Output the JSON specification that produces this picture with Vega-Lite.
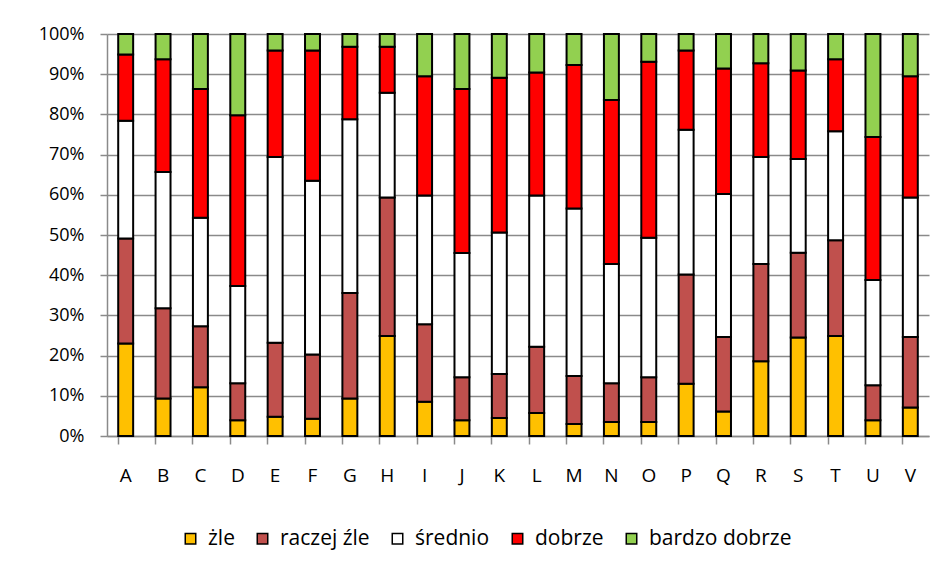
{
  "$schema": "https://vega.github.io/schema/vega-lite/v6.json",
  "width": 822,
  "height": 402,
  "autosize": {"type": "none"},
  "padding": {"left": 107, "top": 34, "right": 15, "bottom": 135},
  "background": "white",
  "config": {
    "font": "Open Sans",
    "view": {"stroke": null},
    "axis": {"labelColor": "#000000", "labelFont": "Open Sans"}
  },
  "data": {
    "values": [
      {"k": "A", "żle": 23.0, "raczej źle": 26.1, "średnio": 29.3, "dobrze": 16.5, "bardzo dobrze": 5.1},
      {"k": "B", "żle": 9.3, "raczej źle": 22.5, "średnio": 33.9, "dobrze": 28.0, "bardzo dobrze": 6.3},
      {"k": "C", "żle": 12.1, "raczej źle": 15.2, "średnio": 27.0, "dobrze": 32.0, "bardzo dobrze": 13.7},
      {"k": "D", "żle": 3.9, "raczej źle": 9.2, "średnio": 24.2, "dobrze": 42.5, "bardzo dobrze": 20.2},
      {"k": "E", "żle": 4.8, "raczej źle": 18.4, "średnio": 46.2, "dobrze": 26.5, "bardzo dobrze": 4.1},
      {"k": "F", "żle": 4.3, "raczej źle": 16.0, "średnio": 43.2, "dobrze": 32.4, "bardzo dobrze": 4.1},
      {"k": "G", "żle": 9.3, "raczej źle": 26.3, "średnio": 43.2, "dobrze": 18.0, "bardzo dobrze": 3.2},
      {"k": "H", "żle": 24.9, "raczej źle": 34.4, "średnio": 26.1, "dobrze": 11.4, "bardzo dobrze": 3.2},
      {"k": "I", "żle": 8.5, "raczej źle": 19.3, "średnio": 32.0, "dobrze": 29.7, "bardzo dobrze": 10.5},
      {"k": "J", "żle": 3.9, "raczej źle": 10.7, "średnio": 30.9, "dobrze": 40.8, "bardzo dobrze": 13.7},
      {"k": "K", "żle": 4.5, "raczej źle": 10.9, "średnio": 35.2, "dobrze": 38.5, "bardzo dobrze": 10.9},
      {"k": "L", "żle": 5.7, "raczej źle": 16.5, "średnio": 37.6, "dobrze": 30.6, "bardzo dobrze": 9.6},
      {"k": "M", "żle": 3.0, "raczej źle": 11.9, "średnio": 41.7, "dobrze": 35.7, "bardzo dobrze": 7.7},
      {"k": "N", "żle": 3.5, "raczej źle": 9.6, "średnio": 29.7, "dobrze": 40.8, "bardzo dobrze": 16.4},
      {"k": "O", "żle": 3.5, "raczej źle": 11.1, "średnio": 34.7, "dobrze": 43.8, "bardzo dobrze": 6.9},
      {"k": "P", "żle": 13.0, "raczej źle": 27.2, "średnio": 36.0, "dobrze": 19.7, "bardzo dobrze": 4.1},
      {"k": "Q", "żle": 6.1, "raczej źle": 18.5, "średnio": 35.6, "dobrze": 31.2, "bardzo dobrze": 8.6},
      {"k": "R", "żle": 18.6, "raczej źle": 24.2, "średnio": 26.6, "dobrze": 23.3, "bardzo dobrze": 7.3},
      {"k": "S", "żle": 24.5, "raczej źle": 21.1, "średnio": 23.3, "dobrze": 22.0, "bardzo dobrze": 9.1},
      {"k": "T", "żle": 24.9, "raczej źle": 23.8, "średnio": 27.1, "dobrze": 17.9, "bardzo dobrze": 6.3},
      {"k": "U", "żle": 3.9, "raczej źle": 8.7, "średnio": 26.2, "dobrze": 35.6, "bardzo dobrze": 25.6},
      {"k": "V", "żle": 7.1, "raczej źle": 17.5, "średnio": 34.7, "dobrze": 30.2, "bardzo dobrze": 10.5}
    ]
  },
  "transform": [
    {"fold": ["żle", "raczej źle", "średnio", "dobrze", "bardzo dobrze"], "as": ["s", "v"]},
    {
      "lookup": "s",
      "from": {
        "data": {
          "values": [
            {"s": "żle", "r": 1},
            {"s": "raczej źle", "r": 2},
            {"s": "średnio", "r": 3},
            {"s": "dobrze", "r": 4},
            {"s": "bardzo dobrze", "r": 5}
          ]
        },
        "key": "s",
        "fields": ["r"]
      }
    }
  ],
  "mark": {"type": "bar", "stroke": "#000000", "strokeWidth": 2},
  "encoding": {
    "x": {
      "field": "k",
      "type": "nominal",
      "scale": {"paddingInner": 0.6, "paddingOuter": 0.3},
      "axis": {
        "title": null,
        "labelAngle": 0,
        "labelFontSize": 19,
        "labelPadding": 22,
        "bandPosition": 0,
        "tickSize": 8,
        "tickColor": "#8a8a8a",
        "tickWidth": 1.5,
        "domainColor": "#8a8a8a",
        "domainWidth": 1.5,
        "grid": false
      }
    },
    "y": {
      "field": "v",
      "type": "quantitative",
      "stack": "normalize",
      "scale": {"domain": [0, 1], "nice": false},
      "axis": {
        "title": null,
        "values": [0, 0.1, 0.2, 0.3, 0.4, 0.5, 0.6, 0.7, 0.8, 0.9, 1.0],
        "format": ".0%",
        "labelFontSize": 18,
        "labelPadding": 16,
        "tickSize": 7,
        "tickColor": "#8a8a8a",
        "tickWidth": 1.5,
        "domainColor": "#8a8a8a",
        "domainWidth": 1.5,
        "grid": true,
        "gridColor": "#8a8a8a",
        "gridWidth": 1.5
      }
    },
    "color": {
      "field": "s",
      "type": "nominal",
      "sort": ["żle", "raczej źle", "średnio", "dobrze", "bardzo dobrze"],
      "scale": {
        "domain": ["żle", "raczej źle", "średnio", "dobrze", "bardzo dobrze"],
        "range": ["#FFC000", "#C0504D", "#FFFFFF", "#FF0000", "#92D050"]
      },
      "legend": {
        "title": null,
        "orient": "none",
        "direction": "horizontal",
        "legendX": 73,
        "legendY": 494,
        "symbolType": "square",
        "symbolSize": 110,
        "symbolStrokeColor": "#000000",
        "symbolStrokeWidth": 1.5,
        "labelFontSize": 21,
        "labelFont": "Open Sans",
        "labelColor": "#000000",
        "labelOffset": 7,
        "columnPadding": 17
      }
    },
    "order": {"field": "r", "type": "quantitative", "sort": "ascending"}
  }
}
